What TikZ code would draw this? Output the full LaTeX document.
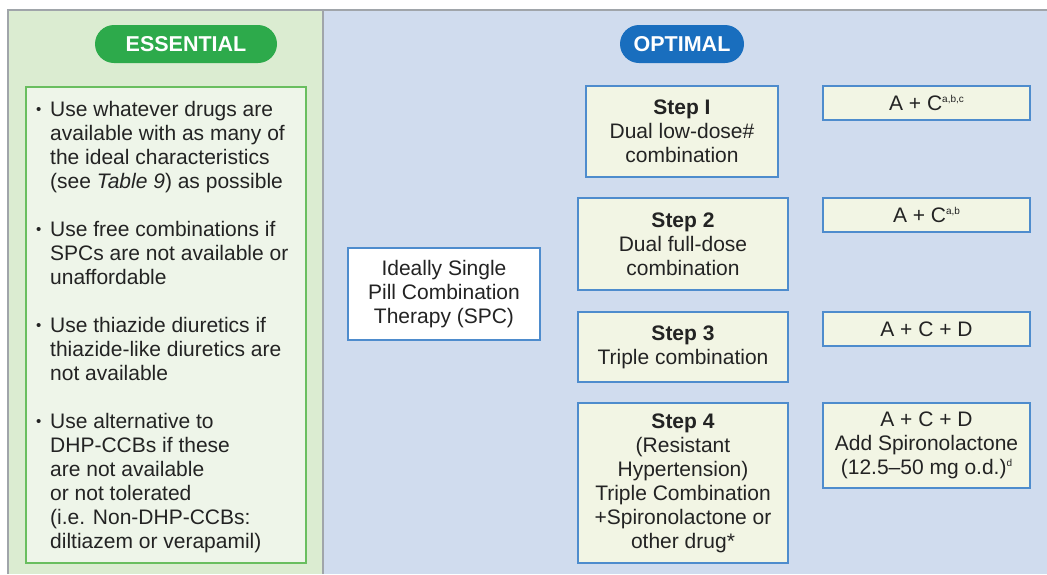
\documentclass[tikz,border=0pt]{standalone}
\usepackage{fontspec}
\setmainfont{Liberation Sans}
\definecolor{greenbg}{RGB}{219,236,209}
\definecolor{greenin}{RGB}{238,245,233}
\definecolor{greenline}{RGB}{105,190,95}
\definecolor{pillgreen}{RGB}{45,170,75}
\definecolor{bluebg}{RGB}{208,220,238}
\definecolor{stepfill}{RGB}{242,245,228}
\definecolor{stepline}{RGB}{78,140,205}
\definecolor{pillblue}{RGB}{25,110,190}
\definecolor{grayline}{RGB}{160,165,170}
\definecolor{txt}{RGB}{35,35,35}
\newcommand{\supx}[1]{\raisebox{8pt}{\fontsize{10}{10}\selectfont #1}}
\newcommand{\blt}{\makebox[14pt][l]{\raisebox{1.5pt}{\fontsize{15}{15}\selectfont •}}}
\tikzset{
  every node/.style={font=\fontsize{21}{24}\selectfont, text=txt},
  pill/.style={rounded corners=19pt, minimum height=38pt, inner sep=0pt, text=white,
    font=\fontsize{21.5}{24}\selectfont\bfseries},
  stepbox/.style={draw=stepline, line width=1.6pt, fill=stepfill, align=center, inner sep=0pt},
  bul/.style={anchor=base west, inner sep=0pt, align=left},
}
\begin{document}
\begin{tikzpicture}[x=1pt,y=-1pt]
\useasboundingbox (0,0) rectangle (1047,574);
% panels
\fill[greenbg] (8,10) rectangle (323,574);
\fill[bluebg] (323,10) rectangle (1047,574);
\draw[grayline, line width=1.5pt] (8,574) -- (8,10) -- (1047,10);
\draw[grayline, line width=1.2pt] (323,10) -- (323,574);
% pills
\node[pill, fill=pillgreen, minimum width=182pt] (ess) at (186,44) {ESSENTIAL};
\node[pill, fill=pillblue, minimum width=124pt] (opt) at (682,44) {OPTIMAL};
% essential box
\node[draw=greenline, line width=1.4pt, fill=greenin, minimum width=280pt, minimum height=476pt, inner sep=0pt] (essbox) at (166,325) {};
\node[bul] (b1) at (36,116) {\blt\parbox[t]{255pt}{\raggedright Use whatever drugs are\\ available with as many of\\ the ideal characteristics\\ (see \textit{Table 9}) as possible}};
\node[bul] (b2) at (36,236) {\blt\parbox[t]{255pt}{\raggedright Use free combinations if\\ SPCs are not available or\\ unaffordable}};
\node[bul] (b3) at (36,332) {\blt\parbox[t]{255pt}{\raggedright Use thiazide diuretics if\\ thiazide-like diuretics are\\ not available}};
\node[bul] (b4) at (36,428) {\blt\parbox[t]{255pt}{\raggedright Use alternative to\\ DHP-CCBs if these\\ are not available\\ or not tolerated\\ (i.e. Non-DHP-CCBs:\\ diltiazem or verapamil)}};
% SPC
\node[stepbox, fill=white, minimum width=192pt, minimum height=92pt] (spc) at (444,294) {Ideally Single\\ Pill Combination\\ Therapy (SPC)};
% steps
\node[stepbox, minimum width=192pt, minimum height=91pt] (s1) at (682,131.5) {\textbf{Step I}\\ Dual low-dose\#\\ combination};
\node[stepbox, minimum width=210pt, minimum height=92pt] (s2) at (683,244) {\textbf{Step 2}\\ Dual full-dose\\ combination};
\node[stepbox, minimum width=210pt, minimum height=70pt] (s3) at (683,347) {\textbf{Step 3}\\ Triple combination};
\node[stepbox, minimum width=210pt, minimum height=160pt] (s4) at (683,483) {\textbf{Step 4}\\ (Resistant\\ Hypertension)\\ Triple Combination\\ +Spironolactone or\\ other drug*};
% right boxes
\node[stepbox, minimum width=207pt, minimum height=34pt] (r1) at (926.5,103) {A + C\supx{a,b,c}};
\node[stepbox, minimum width=207pt, minimum height=34pt] (r2) at (926.5,215) {A + C\supx{a,b}};
\node[stepbox, minimum width=207pt, minimum height=34pt] (r3) at (926.5,329) {A + C + D};
\node[stepbox, minimum width=207pt, minimum height=85pt] (r4) at (926.5,445.5) {A + C + D\\ Add Spironolactone\\ (12.5–50 mg o.d.)\supx{d}};
\end{tikzpicture}
\end{document}
